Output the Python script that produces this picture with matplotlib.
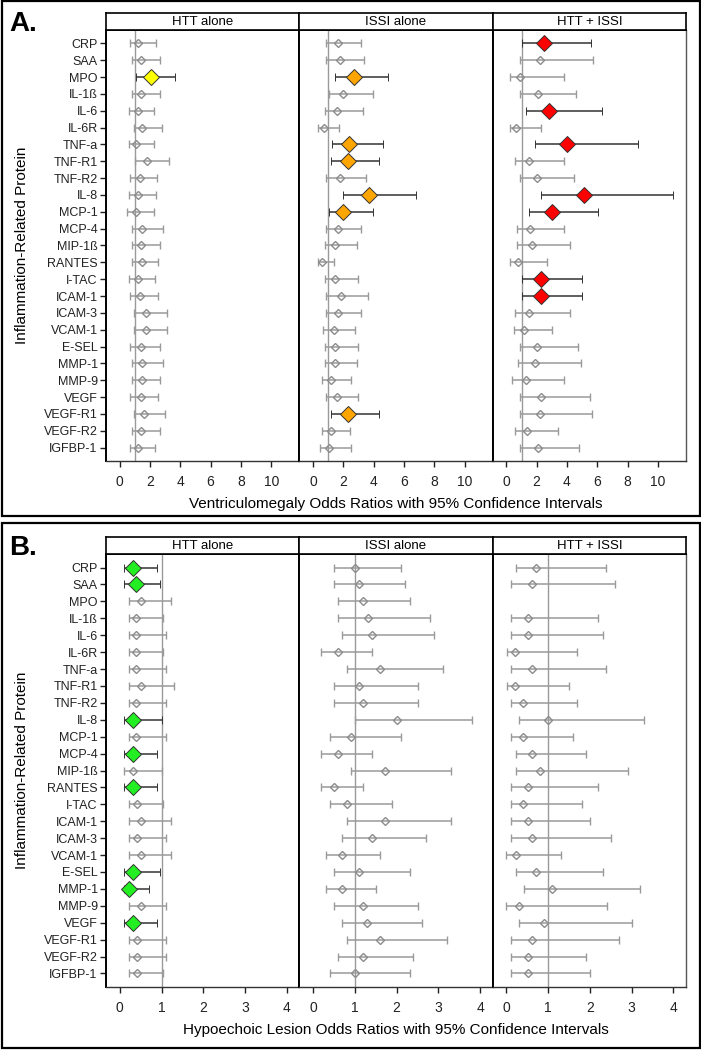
import numpy as np
import matplotlib
matplotlib.use("Agg")
import matplotlib.pyplot as plt
from matplotlib.patches import Rectangle

plt.rcParams['font.family'] = ['Liberation Sans', 'DejaVu Sans']

proteins = ['CRP', 'SAA', 'MPO', 'IL-1ß', 'IL-6', 'IL-6R', 'TNF-a', 'TNF-R1', 'TNF-R2',
            'IL-8', 'MCP-1', 'MCP-4', 'MIP-1ß', 'RANTES', 'I-TAC', 'ICAM-1', 'ICAM-3',
            'VCAM-1', 'E-SEL', 'MMP-1', 'MMP-9', 'VEGF', 'VEGF-R1', 'VEGF-R2', 'IGFBP-1']
groups = ['HTT alone', 'ISSI alone', 'HTT + ISSI']

# A. Ventriculomegaly
vm_htt_or = [1.19, 1.42, 2.04, 1.42, 1.19, 1.50, 1.08, 1.81, 1.33, 1.19, 1.08, 1.50, 1.42,
             1.46, 1.19, 1.33, 1.73, 1.73, 1.42, 1.50, 1.50, 1.42, 1.62, 1.42, 1.19]
vm_htt_lo = [0.71, 0.82, 1.11, 0.82, 0.62, 0.93, 0.62, 1.00, 0.71, 0.62, 0.49, 0.82, 0.82,
             0.82, 0.62, 0.71, 0.93, 0.93, 0.71, 0.82, 0.82, 0.71, 0.93, 0.82, 0.71]
vm_htt_hi = [2.41, 2.65, 3.63, 2.65, 2.28, 2.77, 2.28, 3.25, 2.48, 2.41, 2.28, 2.85, 2.65,
             2.52, 2.32, 2.52, 3.12, 3.12, 2.65, 2.85, 2.65, 2.52, 3.00, 2.65, 2.32]
vm_htt_sig = ['MPO']

vm_issi_or = [1.68, 1.77, 2.70, 1.97, 1.59, 0.75, 2.39, 2.28, 1.77, 3.67, 1.99, 1.68, 1.46,
              0.60, 1.46, 1.88, 1.68, 1.37, 1.48, 1.46, 1.19, 1.59, 2.30, 1.19, 1.08]
vm_issi_lo = [0.88, 0.88, 1.46, 1.04, 0.77, 0.31, 1.28, 1.19, 0.88, 1.99, 1.04, 0.88, 0.77,
              0.31, 0.77, 0.88, 0.88, 0.66, 0.77, 0.77, 0.58, 0.88, 1.19, 0.58, 0.49]
vm_issi_hi = [3.19, 3.36, 4.98, 3.98, 3.30, 1.70, 4.60, 4.38, 3.50, 6.77, 3.98, 3.19, 2.92,
              1.37, 2.99, 3.61, 3.19, 2.79, 2.99, 2.90, 2.48, 2.99, 4.38, 2.43, 2.48]
vm_issi_sig = ['MPO', 'TNF-a', 'TNF-R1', 'IL-8', 'MCP-1', 'VEGF-R1']

vm_both_or = [2.50, 2.21, 0.91, 2.10, 2.79, 0.66, 4.00, 1.48, 1.99, 5.11, 2.99, 1.59, 1.68,
              0.80, 2.28, 2.28, 1.48, 1.19, 1.99, 1.88, 1.31, 2.30, 2.21, 1.39, 2.10]
vm_both_lo = [1.06, 0.93, 0.22, 0.93, 1.28, 0.22, 1.88, 0.60, 0.93, 2.30, 1.48, 0.71, 0.71,
              0.22, 1.02, 1.02, 0.60, 0.49, 0.93, 0.80, 0.40, 0.93, 0.93, 0.60, 0.93]
vm_both_hi = [5.60, 5.71, 3.78, 4.60, 6.31, 2.30, 8.69, 3.78, 4.49, 10.97, 6.06, 3.78, 4.20,
              2.65, 5.00, 5.00, 4.23, 3.01, 4.71, 4.91, 3.78, 5.53, 5.62, 3.41, 4.78]
vm_both_sig = ['CRP', 'IL-6', 'TNF-a', 'IL-8', 'MCP-1', 'I-TAC', 'ICAM-1']

# B. Hypoechoic lesion
hl_htt_or = [0.31, 0.40, 0.51, 0.40, 0.40, 0.40, 0.40, 0.51, 0.40, 0.31, 0.40, 0.31, 0.31,
             0.31, 0.42, 0.51, 0.42, 0.51, 0.31, 0.22, 0.51, 0.31, 0.42, 0.42, 0.42]
hl_htt_lo = [0.11, 0.11, 0.22, 0.22, 0.22, 0.22, 0.22, 0.22, 0.22, 0.11, 0.22, 0.11, 0.11,
             0.11, 0.22, 0.22, 0.22, 0.22, 0.11, 0.11, 0.22, 0.11, 0.22, 0.22, 0.22]
hl_htt_hi = [0.90, 0.97, 1.22, 1.04, 1.10, 1.04, 1.10, 1.30, 1.10, 1.00, 1.10, 0.90, 1.00,
             0.90, 1.04, 1.22, 1.10, 1.22, 0.97, 0.71, 1.10, 0.90, 1.10, 1.10, 1.04]
hl_htt_sig = ['CRP', 'SAA', 'IL-8', 'MCP-4', 'RANTES', 'E-SEL', 'MMP-1', 'VEGF']

hl_issi_or = [1.00, 1.10, 1.20, 1.31, 1.40, 0.60, 1.60, 1.10, 1.20, 2.00, 0.90, 0.60, 1.71,
              0.50, 0.81, 1.71, 1.40, 0.70, 1.10, 0.70, 1.20, 1.30, 1.60, 1.20, 1.00]
hl_issi_lo = [0.50, 0.50, 0.60, 0.60, 0.70, 0.20, 0.81, 0.50, 0.50, 1.00, 0.40, 0.20, 0.90,
              0.20, 0.40, 0.81, 0.70, 0.30, 0.50, 0.30, 0.50, 0.70, 0.81, 0.60, 0.40]
hl_issi_hi = [2.10, 2.21, 2.31, 2.81, 2.90, 1.40, 3.11, 2.51, 2.51, 3.81, 2.10, 1.40, 3.31,
              1.20, 1.90, 3.31, 2.70, 1.60, 2.31, 1.51, 2.51, 2.60, 3.21, 2.40, 2.31]
hl_issi_sig = []

hl_both_or = [0.71, 0.60, np.nan, 0.51, 0.51, 0.20, 0.60, 0.20, 0.40, 1.00, 0.40, 0.60, 0.80,
              0.51, 0.40, 0.51, 0.60, 0.22, 0.71, 1.10, 0.31, 0.90, 0.60, 0.51, 0.51]
hl_both_lo = [0.22, 0.11, np.nan, 0.11, 0.11, 0.02, 0.11, 0.02, 0.11, 0.31, 0.11, 0.22, 0.22,
              0.11, 0.11, 0.11, 0.11, 0.00, 0.22, 0.42, 0.00, 0.31, 0.11, 0.11, 0.11]
hl_both_hi = [2.39, 2.59, np.nan, 2.20, 2.30, 1.70, 2.39, 1.50, 1.70, 3.29, 1.60, 1.90, 2.90,
              2.20, 1.80, 2.00, 2.50, 1.30, 2.30, 3.19, 2.40, 3.00, 2.70, 1.90, 2.00]
hl_both_sig = []

W, H = 701, 1050
fig = plt.figure(figsize=(W / 100, H / 100), dpi=100)


def rect(l, t, r, b):
    return [l / W, 1 - b / H, (r - l) / W, (b - t) / H]


edges = [106, 299.3, 492.7, 686]

panels = [
    dict(tag='A.', top=30, bottom=461, strip=13, y0=1, y1=516, xlim=(-0.9, 11.85),
         ticks=[0, 2, 4, 6, 8, 10],
         xlabel='Ventriculomegaly Odds Ratios with 95% Confidence Intervals',
         data=[(vm_htt_or, vm_htt_lo, vm_htt_hi, vm_htt_sig, '#ffff00'),
               (vm_issi_or, vm_issi_lo, vm_issi_hi, vm_issi_sig, '#ffa500'),
               (vm_both_or, vm_both_lo, vm_both_hi, vm_both_sig, '#ff0000')]),
    dict(tag='B.', top=554, bottom=987, strip=537, y0=523, y1=1048, xlim=(-0.33, 4.3),
         ticks=[0, 1, 2, 3, 4],
         xlabel='Hypoechoic Lesion Odds Ratios with 95% Confidence Intervals',
         data=[(hl_htt_or, hl_htt_lo, hl_htt_hi, hl_htt_sig, '#22ee22'),
               (hl_issi_or, hl_issi_lo, hl_issi_hi, hl_issi_sig, '#22ee22'),
               (hl_both_or, hl_both_lo, hl_both_hi, hl_both_sig, '#22ee22')]),
]

ypos = np.arange(len(proteins))

for p in panels:
    # outer frame of the panel
    fig.patches.append(Rectangle((1.5 / W, 1 - p['y1'] / H), (W - 3) / W, (p['y1'] - p['y0']) / H,
                                 transform=fig.transFigure, fill=False, lw=1.6, ec='black'))
    fig.text(9 / W, 1 - (p['strip'] + 11) / H, p['tag'], fontsize=20, fontweight='bold',
             va='center', ha='left')
    for k, (orr, lo, hi, sig, col) in enumerate(p['data']):
        ax = fig.add_axes(rect(edges[k], p['top'], edges[k + 1], p['bottom']))
        orr = np.array(orr, dtype=float)
        lo = np.array(lo, dtype=float)
        hi = np.array(hi, dtype=float)
        is_sig = np.array([name in sig for name in proteins])
        ax.axvline(1, color='#9a9a9a', lw=1.0, zorder=1)
        ns = ~is_sig
        ax.errorbar(orr[ns], ypos[ns], xerr=[orr[ns] - lo[ns], hi[ns] - orr[ns]], fmt='D',
                    ms=4.4, mfc='none', mec='#8c8c8c', mew=1.0, ecolor='#9a9a9a',
                    elinewidth=1.1, capsize=2.6, capthick=1.1, zorder=2)
        if is_sig.any():
            ax.errorbar(orr[is_sig], ypos[is_sig],
                        xerr=[orr[is_sig] - lo[is_sig], hi[is_sig] - orr[is_sig]], fmt='D',
                        ms=8, mfc=col, mec='#333333', mew=0.7, ecolor='#333333',
                        elinewidth=1.1, capsize=3.2, capthick=1.1, zorder=3)
        ax.set_xlim(*p['xlim'])
        ax.set_ylim(len(proteins) - 0.2, -0.8)
        ax.set_xticks(p['ticks'])
        ax.tick_params(axis='x', length=4, width=1, colors='#222222', labelsize=10, pad=6)
        if k == 0:
            ax.set_yticks(ypos)
            ax.set_yticklabels(proteins)
            ax.tick_params(axis='y', length=4, width=1, colors='#222222', labelsize=9, pad=2)
        else:
            ax.set_yticks([])
        for s in ax.spines.values():
            s.set_linewidth(1.4)
            s.set_color('black')
        ax.spines['bottom'].set_color('#333333')
        ax.spines['bottom'].set_linewidth(1.0)
        if k == 2:
            ax.spines['right'].set_color('#555555')
            ax.spines['right'].set_linewidth(1.0)
        # header strip
        sx = fig.add_axes(rect(edges[k], p['strip'], edges[k + 1], p['top']))
        sx.set_xticks([])
        sx.set_yticks([])
        for s in sx.spines.values():
            s.set_linewidth(1.2)
        sx.text(0.5, 0.45, groups[k], ha='center', va='center', fontsize=9.5,
                transform=sx.transAxes)
    fig.text((edges[0] + edges[-1]) / 2 / W, 1 - (p['bottom'] + 43) / H, p['xlabel'],
             ha='center', va='center', fontsize=11)
    fig.text(22 / W, 1 - (p['top'] + p['bottom']) / 2 / H, 'Inflammation-Related Protein',
             rotation=90, ha='center', va='center', fontsize=11)

fig.savefig('out.png', dpi=100)
